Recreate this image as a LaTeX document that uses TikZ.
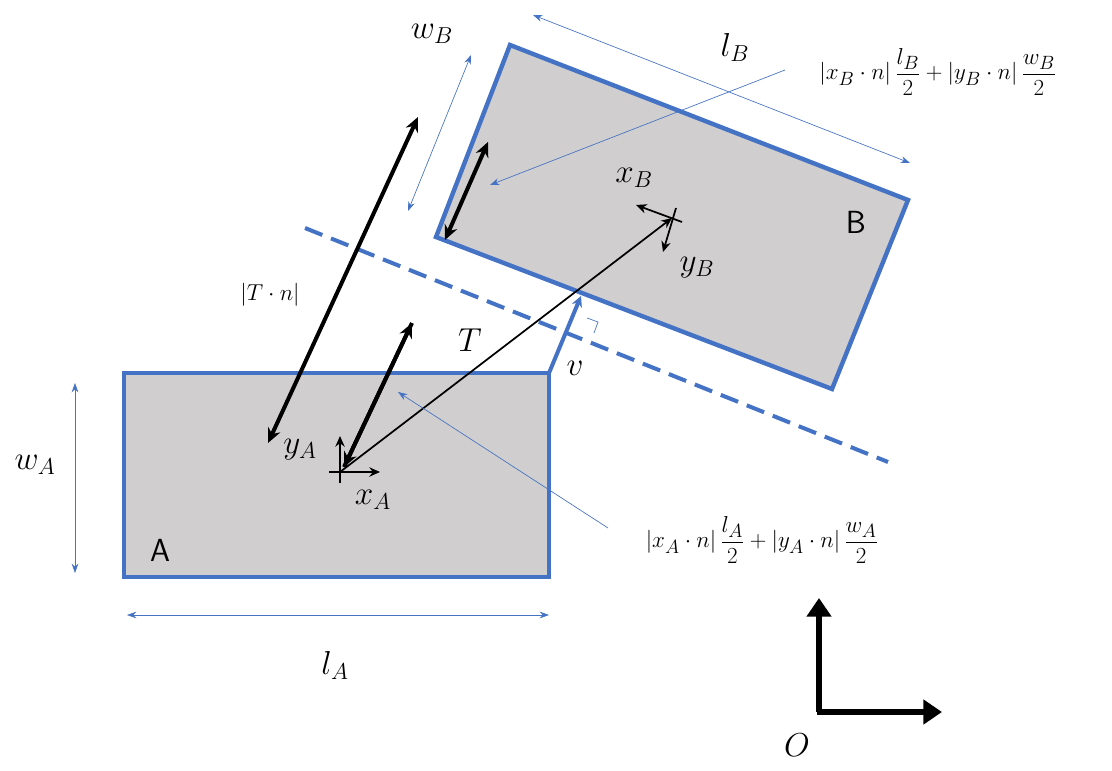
\documentclass[tikz,border=0pt]{standalone}
\usepackage{amsmath}
\usetikzlibrary{arrows.meta}
\definecolor{bl}{HTML}{4472C4}
\definecolor{gr}{HTML}{D0CECE}
\begin{document}
\begin{tikzpicture}[x=0.75pt,y=-0.75pt,
 box/.style={draw=bl,fill=gr,line width=3.3pt},
 dim/.style={draw=bl,line width=0.5pt,{Stealth[length=7pt,width=5pt]}-{Stealth[length=7pt,width=5pt]}},
 ptr/.style={draw=bl,line width=0.5pt,-{Stealth[length=7pt,width=5pt]}},
 thick2/.style={line width=3pt,{Stealth[length=11pt,width=10pt]}-{Stealth[length=11pt,width=10pt]}},
 ax/.style={line width=1.3pt,-{Stealth[length=8pt,width=7pt]}},
 lbl/.style={font=\fontsize{25}{30}\selectfont},
 fml/.style={font=\fontsize{19}{23}\selectfont}]
\useasboundingbox (0,0) rectangle (1112,770);
\draw[box] (124,373) coordinate (a1) rectangle (549,577) coordinate (a3);
\coordinate (a2) at (549,373);
\draw[box] (510,45) coordinate (b1) -- (908,200) coordinate (b2) -- (832,389) coordinate (b3) -- (436,237) coordinate (b4) -- cycle;
\coordinate (d1) at (305,228); \coordinate (d2) at (888,462);
\draw[bl,line width=3pt,dash pattern=on 14pt off 7pt] (d1) -- (d2);
% v
\coordinate (vend) at (581,296);
\draw[bl,line width=3pt,-{Stealth[length=8pt,width=8pt]}] (a2) -- (vend);
\draw[bl,line width=0.5pt] (587,318) -- (598,322) -- (594,333);
% T
\coordinate (oa) at (340,472); \coordinate (ob) at (672,218);
\draw[line width=1.3pt,-{Stealth[length=8pt,width=7pt]}] (oa) -- (ob);
\draw[ax] (329,472) -- (380,472) coordinate (xa);
\draw[ax] (340,483) -- (340,436) coordinate (ya);
\draw[ax] (682,222) -- (636,205) coordinate (xb);
\draw[ax] (676,208) -- (663,252) coordinate (yb);
% thick arrows
\draw[thick2] (268,443) coordinate (t1) -- (418,117) coordinate (t2);
\draw[line width=3pt,-{Stealth[length=11pt,width=10pt]}] (344,467) coordinate (s1) -- (412,323) coordinate (s2);
\draw[line width=3pt,-{Stealth[length=11pt,width=10pt]}] (s2) -- (s1);
\draw[thick2] (445,240) coordinate (r1) -- (488,142) coordinate (r2);
% dims
\draw[dim] (408,211) -- (471,55);
\draw[dim] (533,15) -- (910,163);
\draw[dim] (75,383) -- (75,573);
\draw[dim] (127,615) -- (549,615);
\draw[ptr] (785,70) -- (490,185);
\draw[ptr] (608,528) -- (398,392);
% O
\draw[line width=5pt,-{Triangle[length=14pt,width=18pt]}] (819,712) -- (819,598);
\draw[line width=5pt,-{Triangle[length=14pt,width=18pt]}] (817,712) -- (942,712);
% labels
\node[lbl] (lwb) at (432,34) {$w_B$};
\node[lbl] (llb) at (735,47) {$l_B$};
\node[fml] (fb) at (938,72) {$|x_B\cdot n|\,\dfrac{l_B}{2}+|y_B\cdot n|\,\dfrac{w_B}{2}$};
\node[fml] (ltn) at (270,295) {$|T\cdot n|$};
\node[lbl] (lt) at (470,340) {$T$};
\node[lbl] (lv) at (575,368) {$v$};
\node[lbl] (lya) at (300,450) {$y_A$};
\node[lbl] (lxa) at (373,500) {$x_A$};
\node[lbl] (lxb) at (634,178) {$x_B$};
\node[lbl] (lyb) at (697,268) {$y_B$};
\node[font=\sffamily\fontsize{24}{28}\selectfont] (la) at (160,550) {A};
\node[font=\sffamily\fontsize{24}{28}\selectfont] (lb) at (856,222) {B};
\node[lbl] (lwa) at (35,465) {$w_A$};
\node[lbl] (lla) at (335,665) {$l_A$};
\node[fml] (fa) at (762,540) {$|x_A\cdot n|\,\dfrac{l_A}{2}+|y_A\cdot n|\,\dfrac{w_A}{2}$};
\node[lbl] (lo) at (797,745) {$O$};
\end{tikzpicture}
\end{document}
